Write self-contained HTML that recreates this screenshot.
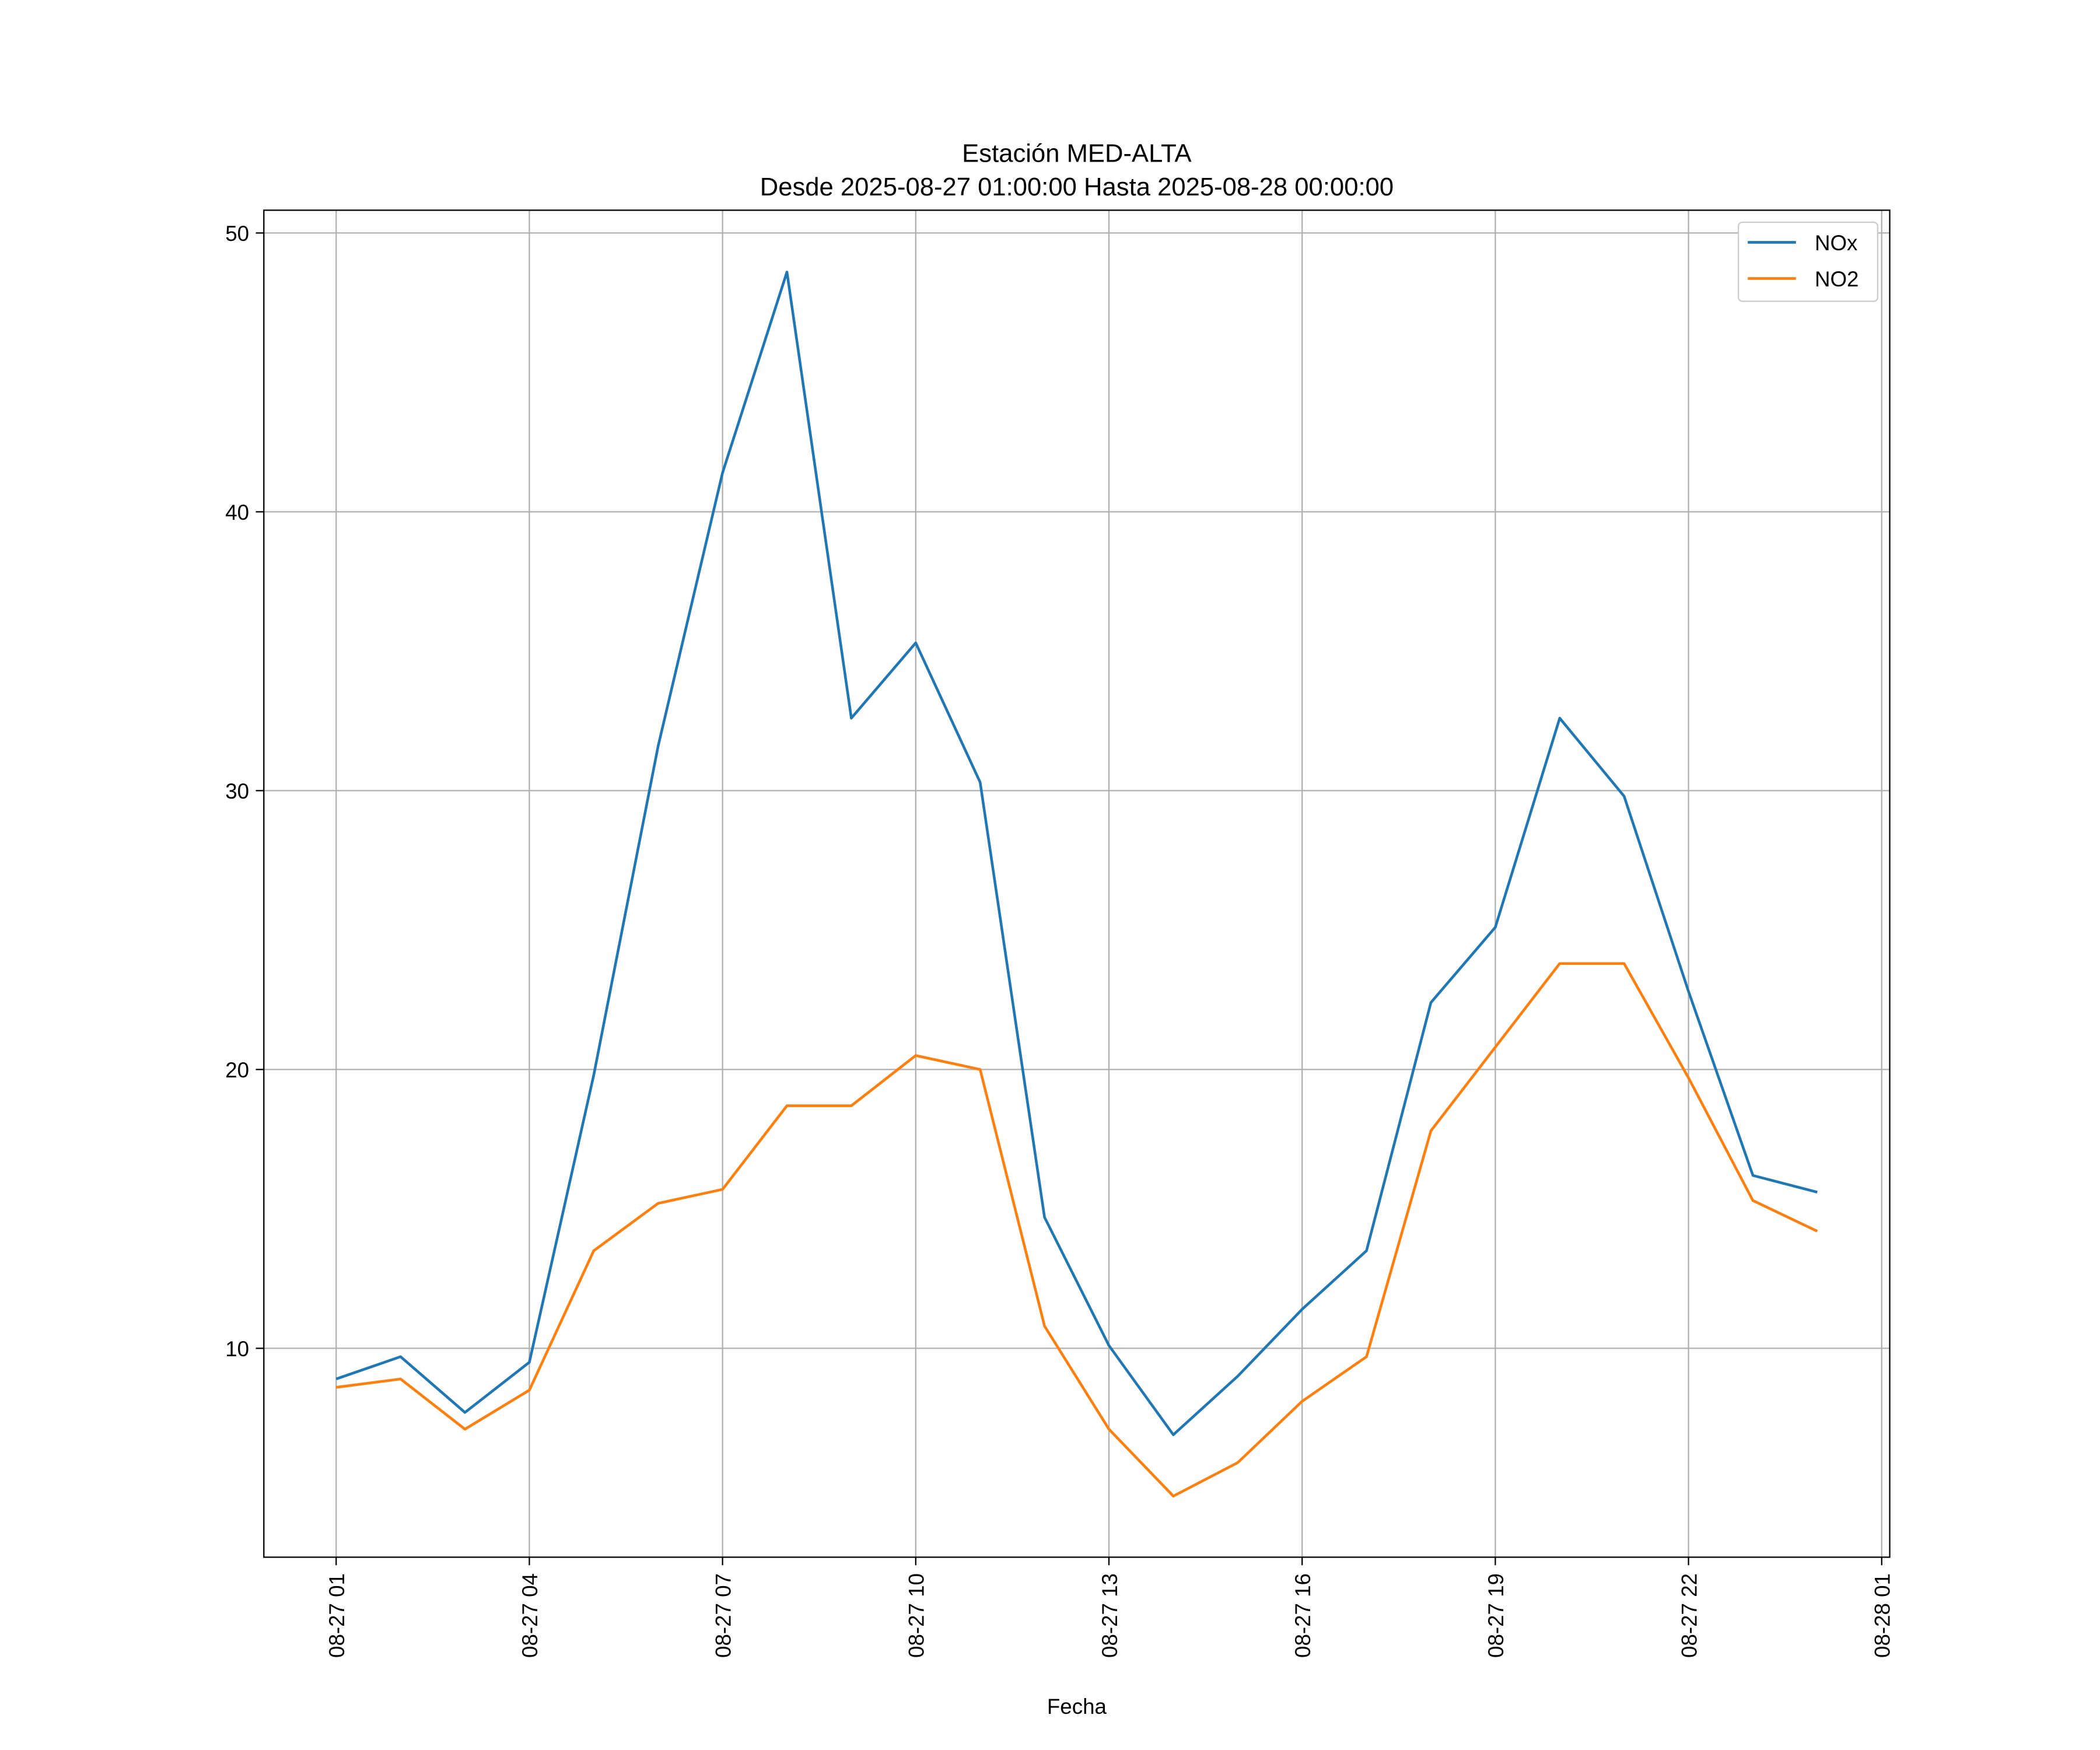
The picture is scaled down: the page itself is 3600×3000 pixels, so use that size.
<!DOCTYPE html>
<html><head><meta charset="utf-8"><style>html,body{margin:0;padding:0;background:#fff}svg{display:block}text{font-family:"Liberation Sans","DejaVu Sans",sans-serif;fill:#000}</style></head>
<body>
<svg id="chart" width="3600" height="3000" viewBox="0 0 1568 1307" preserveAspectRatio="none" xmlns="http://www.w3.org/2000/svg">
<rect width="1568" height="1307" fill="#fff"/>
<g id="grid"></g>
<g id="series"></g>
<rect x="197" y="157" width="1214" height="1006" fill="none" stroke="#000" stroke-width="1"/>
<g id="ticks"></g>
<text x="804" y="121" font-size="19" text-anchor="middle">Estación MED-ALTA</text>
<text x="804" y="146" font-size="19" text-anchor="middle">Desde 2025-08-27 01:00:00 Hasta 2025-08-28 00:00:00</text>
<text x="804" y="1280" font-size="16" text-anchor="middle">Fecha</text>
<g>
<rect x="1298" y="166" width="104" height="59" fill="#fff" stroke="#ccc" rx="3"/>
<line x1="1305" y1="181" x2="1341" y2="181" stroke="#1f77b4" stroke-width="2"/>
<text x="1355" y="187" font-size="16">NOx</text>
<line x1="1305" y1="208" x2="1341" y2="208" stroke="#ff7f0e" stroke-width="2"/>
<text x="1355" y="214" font-size="16">NO2</text>
</g>
</svg>
<script>
const hours = [1,2,3,4,5,6,7,8,9,10,11,12,13,14,15,16,17,18,19,20,21,22,23,24];
const noxValues = [8.9,9.7,7.7,9.5,19.8,31.6,41.4,48.6,32.6,35.3,30.3,14.7,10.1,6.9,9.0,11.4,13.5,22.4,25.1,32.6,29.8,22.8,16.2,15.6];
const no2Values = [8.6,8.9,7.1,8.5,13.5,15.2,15.7,18.7,18.7,20.5,20.0,10.8,7.1,4.7,5.9,8.1,9.7,17.8,20.8,23.8,23.8,19.7,15.3,14.2];
const yTicks = [10,20,30,40,50];
const xTickHours = [1,4,7,10,13,16,19,22,25];
const xTickLabels = ["08-27 01","08-27 04","08-27 07","08-27 10","08-27 13","08-27 16","08-27 19","08-27 22","08-28 01"];

const NS = "http://www.w3.org/2000/svg";
const xS = h => 251 + (h - 1) * (1405 - 251) / 24;
const yS = v => 1007 - (v - 10) * (1007 - 174) / 40;
function mk(tag, attrs, parent){const e=document.createElementNS(NS,tag);for(const k in attrs)e.setAttribute(k,attrs[k]);parent.appendChild(e);return e;}
const grid=document.getElementById('grid'), ticks=document.getElementById('ticks'), series=document.getElementById('series');
yTicks.forEach(v=>{
  const y=yS(v);
  const g=mk('line',{x1:197,x2:1411,y1:y,y2:y,stroke:'#b0b0b0','stroke-width':1},grid);
  
  
  mk('line',{x1:191,x2:197,y1:y,y2:y,stroke:'#000'},ticks);
  const t=mk('text',{x:186,y:y+6,'font-size':16,'text-anchor':'end'},ticks);
  t.textContent=v;
  
  
});
xTickHours.forEach((h,i)=>{
  const x=xS(h);
  if(x<1411){const g=mk('line',{x1:x,x2:x,y1:157,y2:1163,stroke:'#b0b0b0','stroke-width':1},grid);
  
  }
  mk('line',{x1:x,x2:x,y1:1163,y2:1169,stroke:'#000'},ticks);
  const t=mk('text',{x:0,y:0,'font-size':16,'text-anchor':'end',transform:`translate(${x+6},1175) rotate(-90)`},ticks);
  t.textContent=xTickLabels[i];
  
  
});
function line(vals,color,name){
  const p=mk('polyline',{points:vals.map((v,i)=>xS(hours[i])+','+yS(v)).join(' '),fill:'none',stroke:color,'stroke-width':2,'stroke-linejoin':'round'},series);
  
  
}
line(noxValues,'#1f77b4','nox-line');
line(no2Values,'#ff7f0e','no2-line');
</script>
</body></html>
